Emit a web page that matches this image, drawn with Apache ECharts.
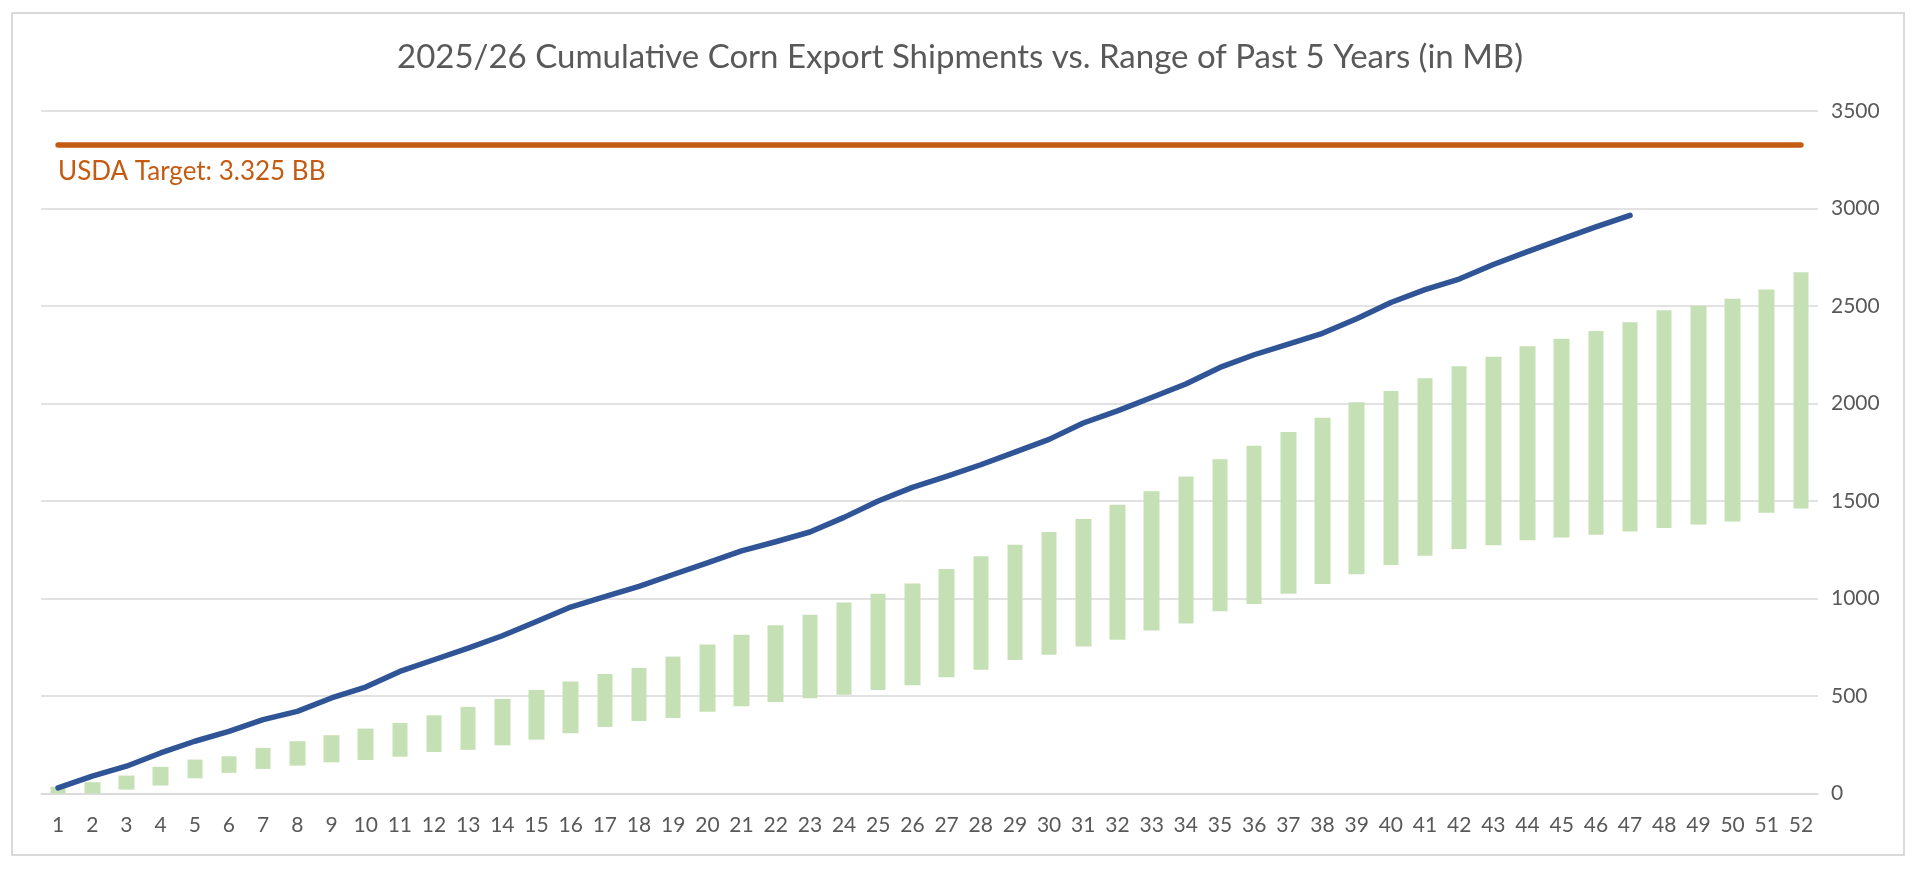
<!DOCTYPE html>
<html>
<head>
<meta charset="utf-8">
<script src="https://cdn.jsdelivr.net/npm/echarts@6/dist/echarts.min.js"></script>
<style>
    html, body {margin: 0; padding: 0; background: #fff;}
    #chart {width: 1920px; height: 869px;}
</style>
</head>
<body>
<div id="chart"></div>
<script>
// week numbers 1..52
var weeks = [];
for (var w = 1; w <= 52; w++) weeks.push(String(w));

// 2025/26 cumulative shipments (MB), weeks 1..47
var current = [29, 89, 140, 208, 268, 319, 379, 421, 490, 546,
    626, 686, 746, 809, 882, 956, 1010, 1062, 1123, 1183,
    1244, 1291, 1341, 1416, 1500, 1570, 1626, 1686, 1751, 1816,
    1900, 1962, 2031, 2100, 2185, 2250, 2305, 2360, 2435, 2518,
    2584, 2638, 2713, 2779, 2843, 2906, 2965];

// past 5 years range: low / high per week
var rangeLow = [0, 0, 20, 41, 78, 106, 126, 143, 160, 172,
    189, 213, 224, 247, 276, 309, 341, 372, 387, 419,
    447, 469, 488, 507, 531, 555, 596, 635, 684, 712,
    754, 788, 836, 872, 935, 972, 1024, 1075, 1125, 1172,
    1219, 1254, 1273, 1299, 1313, 1327, 1344, 1362, 1379, 1395,
    1440, 1461];
var rangeHigh = [34, 58, 92, 137, 174, 191, 234, 268, 299, 333,
    362, 401, 444, 485, 531, 575, 613, 644, 702, 764,
    814, 863, 917, 980, 1025, 1077, 1151, 1217, 1276, 1341,
    1408, 1481, 1550, 1626, 1714, 1783, 1854, 1927, 2007, 2064,
    2129, 2191, 2240, 2294, 2332, 2372, 2417, 2478, 2501, 2537,
    2584, 2673];

var usdaTarget = 3325;

var txt = '#595959';
var grey = '#d9d9d9';
var font = 'Lato';

var boxes = rangeLow.map(function (lo, i) {
    return [lo, rangeHigh[i], lo, rangeHigh[i]];
});

var chart = echarts.init(document.getElementById('chart'));

var option = {
    backgroundColor: '#fff',
    animation: false,
    title: {
        text: '2025/26 Cumulative Corn Export Shipments vs. Range of Past 5 Years (in MB)',
        left: 'center',
        top: 41,
        padding: 0,
        textStyle: {color: txt, fontFamily: font, fontSize: 33, fontWeight: 'normal'}
    },
    graphic: [{
        type: 'rect',
        shape: {x: 12, y: 13, width: 1892, height: 842},
        style: {fill: 'none', stroke: grey, lineWidth: 2},
        silent: true
    }],
    grid: {left: 41, right: 102, top: 111, bottom: 75.5},
    xAxis: {
        type: 'category',
        data: weeks,
        boundaryGap: true,
        axisLine: {show: true, lineStyle: {color: grey, width: 1.5}},
        axisTick: {show: false},
        axisLabel: {color: txt, fontFamily: font, fontSize: 21, margin: 21, interval: 0}
    },
    yAxis: {
        type: 'value',
        position: 'right',
        min: 0,
        max: 3500,
        interval: 500,
        axisLine: {show: false},
        axisTick: {show: false},
        splitLine: {lineStyle: {color: grey, width: 1.5}},
        axisLabel: {
            color: txt, fontFamily: font, fontSize: 21, margin: 13, align: 'left',
            formatter: function (v) { return String(v); }
        }
    },
    series: [
        {
            name: 'Range of Past 5 Years',
            type: 'candlestick',
            data: boxes,
            barWidth: 16,
            itemStyle: {
                color: '#c5e0b4', color0: '#c5e0b4',
                borderColor: '#c5e0b4', borderColor0: '#c5e0b4',
                borderWidth: 0
            },
            markLine: {
                silent: true,
                symbol: 'none',
                lineStyle: {color: '#c55a11', width: 5.5, type: 'solid', cap: 'round'},
                label: {
                    show: true,
                    position: 'insideStartBottom',
                    formatter: 'USDA Target: 3.325 BB',
                    color: '#c55a11',
                    fontFamily: font,
                    fontSize: 26,
                    distance: [0, 13]
                },
                data: [[{coord: ['1', usdaTarget]}, {coord: ['52', usdaTarget]}]]
            }
        },
        {
            name: '2025/26',
            type: 'line',
            data: current,
            symbol: 'none',
            smooth: false,
            lineStyle: {color: '#2f5597', width: 5.5, cap: 'round', join: 'round'},
            z: 5
        }
    ]
};

chart.setOption(option);
</script>
</body>
</html>
